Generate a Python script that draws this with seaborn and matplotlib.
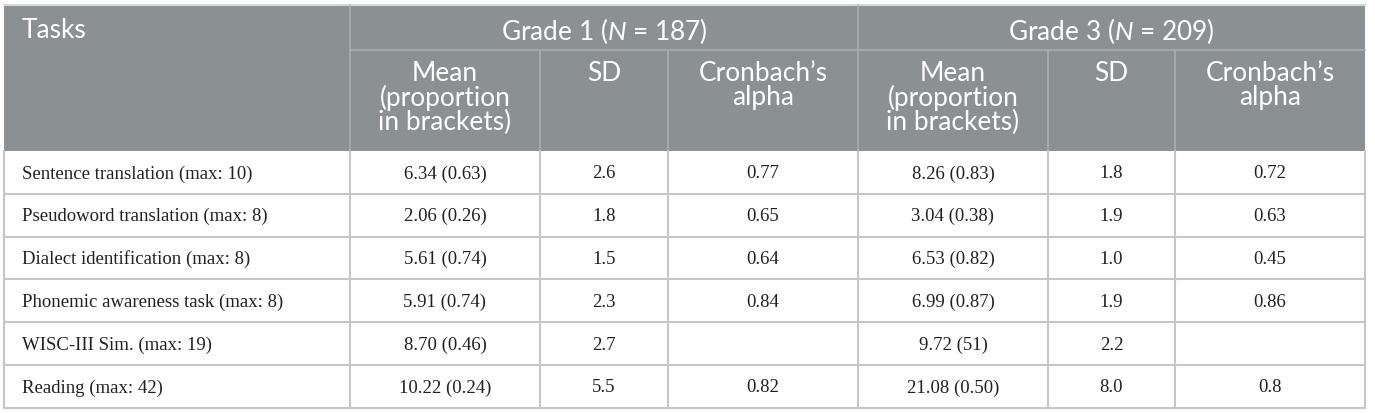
import numpy as np
import pandas as pd
import seaborn as sns
import matplotlib.pyplot as plt
from matplotlib.patches import Rectangle

# table content
tasks = ['Sentence translation (max: 10)', 'Pseudoword translation (max: 8)',
         'Dialect identification (max: 8)', 'Phonemic awareness task (max: 8)',
         'WISC-III Sim. (max: 19)', 'Reading (max: 42)']
g1_mean = ['6.34 (0.63)', '2.06 (0.26)', '5.61 (0.74)', '5.91 (0.74)', '8.70 (0.46)', '10.22 (0.24)']
g1_sd = ['2.6', '1.8', '1.5', '2.3', '2.7', '5.5']
g1_alpha = ['0.77', '0.65', '0.64', '0.84', '', '0.82']
g3_mean = ['8.26 (0.83)', '3.04 (0.38)', '6.53 (0.82)', '6.99 (0.87)', '9.72 (51)', '21.08 (0.50)']
g3_sd = ['1.8', '1.9', '1.0', '1.9', '2.2', '8.0']
g3_alpha = ['0.72', '0.63', '0.45', '0.86', '', '0.8']
groups = [('Grade 1', '187'), ('Grade 3', '209')]
sub_heads = ['Mean\n(proportion\nin brackets)', 'SD', 'Cronbach\u2019s\nalpha']

df = pd.DataFrame({'task': tasks, 'm1': g1_mean, 'sd1': g1_sd, 'a1': g1_alpha,
                   'm3': g3_mean, 'sd3': g3_sd, 'a3': g3_alpha})

sns.set_theme(style='white')
plt.rcParams['mathtext.fontset'] = 'custom'
plt.rcParams['mathtext.rm'] = 'Lato'
plt.rcParams['mathtext.it'] = 'Lato:italic'

W, H = 1375, 413
fig = plt.figure(figsize=(W / 100, H / 100), dpi=100)
ax = fig.add_axes([0, 0, 1, 1])
ax.set_xlim(0, W)
ax.set_ylim(H, 0)
ax.axis('off')

head_font = 'Lato'
body_font = 'Liberation Serif'


def fit_size(text, family, target):
    # scale font size so rendered width matches target pixels
    t = ax.text(0, 0, text, family=family, fontsize=12)
    fig.canvas.draw()
    w = t.get_window_extent().width
    t.remove()
    return 12 * target / w


hsize = fit_size('Cronbach\u2019s', head_font, 128)
bsize = fit_size('Sentence translation (max: 10)', body_font, 229)

x_edges = [4, 350, 540, 668, 858, 1048, 1175, 1365]
y_top, y_mid, y_head = 5, 50, 151
row_h = 42.8
head_col = '#8b9092'
head_line = '#a9adaf'
grid_col = '#c6c6c6'

# header block
ax.add_patch(Rectangle((x_edges[0], y_top), x_edges[-1] - x_edges[0], y_head - y_top,
                       facecolor=head_col, edgecolor='none'))
ax.plot([x_edges[0], x_edges[-1]], [y_top - 0.5, y_top - 0.5], color='#d4d6d7', lw=1.5)
ax.plot([x_edges[1], x_edges[-1]], [y_mid, y_mid], color=head_line, lw=1.2)
for x in [x_edges[1], x_edges[4]]:
    ax.plot([x, x], [y_top, y_head], color=head_line, lw=1.2)
for x in [x_edges[2], x_edges[3], x_edges[5], x_edges[6]]:
    ax.plot([x, x], [y_mid, y_head], color=head_line, lw=1.2)

ax.text(22, 30, 'Tasks', family=head_font, fontsize=hsize, color='white', va='center', ha='left')
for gi, (g, n) in enumerate(groups):
    cx = (x_edges[1 + 3 * gi] + x_edges[4 + 3 * gi]) / 2
    ax.text(cx, 31, g + ' ($\\mathit{N}$ = ' + n + ')', family=head_font, fontsize=hsize,
            color='white', va='center', ha='center')
    for k, s in enumerate(sub_heads):
        c = (x_edges[1 + 3 * gi + k] + x_edges[2 + 3 * gi + k]) / 2
        ax.text(c, 61, s, family=head_font, fontsize=hsize, color='white', va='top',
                ha='center', linespacing=0.95)

# body
cols = ['m1', 'sd1', 'a1', 'm3', 'sd3', 'a3']
y_bot = y_head + row_h * len(df)
for i, row in df.iterrows():
    yc = y_head + row_h * (i + 0.5) + 1.5
    ax.text(22, yc, row['task'], family=body_font, fontsize=bsize, color='#231f20',
            va='center', ha='left')
    for k, c in enumerate(cols):
        cx = (x_edges[1 + k] + x_edges[2 + k]) / 2
        ax.text(cx, yc, row[c], family=body_font, fontsize=bsize, color='#231f20',
                va='center', ha='center')
    ax.plot([x_edges[0], x_edges[-1]], [y_head + row_h * (i + 1)] * 2, color=grid_col, lw=1.5)
for x in x_edges:
    ax.plot([x, x], [y_head, y_bot], color=grid_col, lw=1.5)

fig.savefig('out.png', dpi=100, facecolor='white')
